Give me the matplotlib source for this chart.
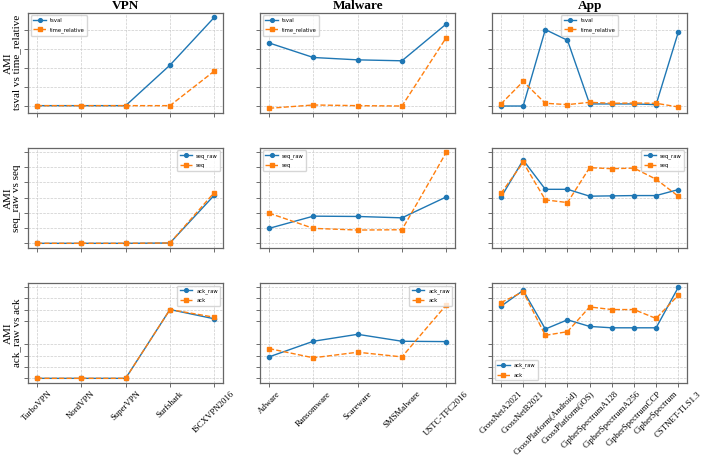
import numpy as np
import matplotlib.pyplot as plt

vpn = ['TurboVPN', 'NordVPN', 'SuperVPN', 'Surfshark', 'ISCXVPN2016']
malware = ['Adware', 'Ransomware', 'Scareware', 'SMSMalware', 'USTC-TFC2016']
app = ['CrossNetA2021', 'CrossNetB2021', 'CrossPlatform(Android)', 'CrossPlatform(iOS)',
       'CipherSpectrumA128', 'CipherSpectrumA256', 'CipherSpectrumCCP', 'CipherSpectrum',
       'CSTNET-TLS1.3']

# row 1: tsval vs time_relative
tsval_vpn = [0.0, 0.0, 0.0, 0.428, 0.933]
timerel_vpn = [0.0, 0.0, 0.0, 0.0, 0.365]
tsval_mal = [0.663, 0.509, 0.484, 0.474, 0.863]
timerel_mal = [-0.028, 0.007, 0.0, -0.004, 0.719]
tsval_app = [-0.004, -0.004, 0.804, 0.691, 0.018, 0.018, 0.018, 0.011, 0.775]
timerel_app = [0.018, 0.256, 0.025, 0.011, 0.035, 0.025, 0.028, 0.025, -0.014]

# row 2: seq_raw vs seq
seqraw_vpn = [0.0, 0.0, 0.0, 0.002, 0.315]
seq_vpn = [0.0, 0.0, 0.0, 0.002, 0.333]
seqraw_mal = [0.098, 0.178, 0.176, 0.167, 0.304]
seq_mal = [0.198, 0.098, 0.087, 0.089, 0.596]
seqraw_app = [0.302, 0.546, 0.354, 0.354, 0.309, 0.311, 0.313, 0.313, 0.352]
seq_app = [0.328, 0.530, 0.285, 0.267, 0.496, 0.489, 0.493, 0.420, 0.309]

# row 3: ack_raw vs ack
ackraw_vpn = [0.0, 0.0, 0.0, 0.603, 0.522]
ack_vpn = [0.0, 0.0, 0.0, 0.603, 0.536]
ackraw_mal = [0.188, 0.325, 0.386, 0.325, 0.322]
ack_mal = [0.261, 0.180, 0.229, 0.188, 0.643]
ackraw_app = [0.632, 0.771, 0.432, 0.513, 0.455, 0.443, 0.443, 0.443, 0.797]
ack_app = [0.664, 0.759, 0.377, 0.409, 0.626, 0.603, 0.603, 0.525, 0.728]

groups = [('VPN', vpn), ('Malware', malware), ('App', app)]
rows = [
    ('tsval', 'time_relative', [(tsval_vpn, timerel_vpn), (tsval_mal, timerel_mal), (tsval_app, timerel_app)],
     ['upper left', 'upper left', 'upper center'], [0, 0.2, 0.4, 0.6, 0.8]),
    ('seq_raw', 'seq', [(seqraw_vpn, seq_vpn), (seqraw_mal, seq_mal), (seqraw_app, seq_app)],
     ['upper right', 'upper left', 'upper right'], [0, 0.1, 0.2, 0.3, 0.4, 0.5, 0.6]),
    ('ack_raw', 'ack', [(ackraw_vpn, ack_vpn), (ackraw_mal, ack_mal), (ackraw_app, ack_app)],
     ['upper right', 'upper right', 'lower left'], [0, 0.1, 0.2, 0.3, 0.5, 0.6, 0.7, 0.8]),
]

serif = 'Liberation Serif'
fig, axes = plt.subplots(3, 3, figsize=(7.04, 4.58), dpi=100, sharey='row')
plt.subplots_adjust(left=0.04, right=0.976, top=0.972, bottom=0.164, wspace=0.19, hspace=0.35)

for r, (a_name, b_name, series, locs, yt) in enumerate(rows):
    for c, (gname, cats) in enumerate(groups):
        ax = axes[r, c]
        a_vals, b_vals = series[c]
        x = np.arange(len(cats))
        ax.plot(x, a_vals, '-o', color='#1f77b4', lw=1, ms=3, label=a_name)
        ax.plot(x, b_vals, '--s', color='#ff7f0e', lw=1, ms=3, label=b_name)
        ax.set_xticks(x)
        if r == 2:
            ax.set_xticklabels(cats, rotation=45, ha='center', family=serif, fontsize=6.3)
        else:
            ax.set_xticklabels([])
        ax.set_yticks(yt)
        ax.set_yticklabels([])
        ax.grid(True, ls='--', lw=0.5, color='#cccccc')
        ax.tick_params(length=3, width=0.6, color='#555555', pad=2)
        for s in ax.spines.values():
            s.set_color('#666666')
            s.set_linewidth(0.9)
        ax.legend(loc=locs[c], fontsize=3.8, frameon=True, handlelength=2.3,
                  borderpad=0.5, labelspacing=0.8, markerscale=0.9)
        if r == 0:
            ax.set_title(gname, family=serif, fontweight='bold', fontsize=9.5, pad=3)
        if c == 0:
            ax.set_ylabel('AMI\n' + a_name + ' vs ' + b_name, family=serif, fontsize=8,
                          labelpad=0, linespacing=0.95)

fig.savefig('out.png', dpi=100)
